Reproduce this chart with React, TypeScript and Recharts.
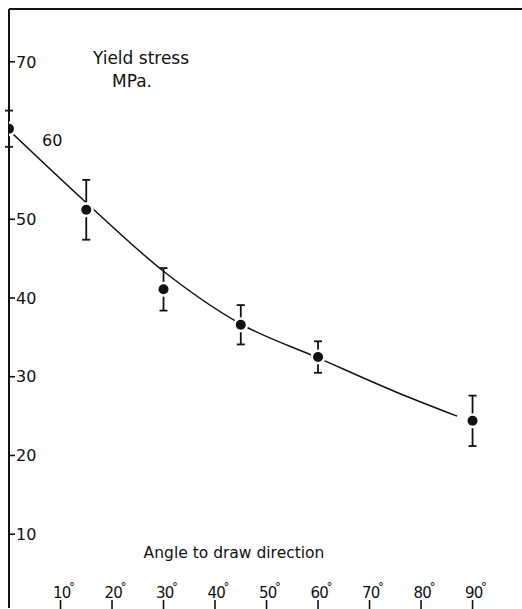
import React from 'react';
import { ComposedChart, Line, Scatter, ErrorBar, XAxis, YAxis } from 'recharts';

// measured points (angle to draw direction, yield stress in MPa, +/- spread)
const angles = [0, 15, 30, 45, 60, 90];
const yieldStress = [61.5, 51.2, 41.1, 36.6, 32.5, 24.4];
const stressError = [2.3, 3.8, 2.7, 2.5, 2.0, 3.2];

// hand-drawn trend curve
const fitAngles = [0, 15, 30, 45, 60, 75, 87];
const fitStress = [61.3, 52.1, 43.4, 36.7, 32.4, 28.1, 25.0];

const xTicks = [10, 20, 30, 40, 50, 60, 70, 80, 90];
const yTicks = [10, 20, 30, 40, 50, 60, 70];

const INK = '#111';
const FONT = '"DejaVu Sans", sans-serif';

const points = angles.map((a, i) => ({ angle: a, stress: yieldStress[i], err: stressError[i] }));
const curve = fitAngles.map((a, i) => ({ angle: a, fit: fitStress[i] }));

const AngleTick = (props: any) => {
  const { x, y, payload } = props;
  return (
    <g>
      <line x1={x} y1={y - 8} x2={x} y2={y + 2} stroke={INK} strokeWidth={1.6} />
      <text x={x + 3} y={y - 10} textAnchor="middle" fill={INK} fontSize={15} fontFamily={FONT} letterSpacing={-0.8}>
        {payload.value}
        <tspan dx={-1.5} dy={-7} fontSize={12}>°</tspan>
      </text>
    </g>
  );
};

const StressTick = (props: any) => {
  const { x, y, payload } = props;
  if (payload.value === 60) {
    return (
      <text x={x + 33} y={y} dy="0.36em" fill={INK} fontSize={16} fontFamily={FONT}>
        {payload.value}
      </text>
    );
  }
  return (
    <g>
      <line x1={x} y1={y} x2={x + 6} y2={y} stroke={INK} strokeWidth={1.6} />
      <text x={x + 7} y={y} dy="0.36em" fill={INK} fontSize={16} fontFamily={FONT}>
        {payload.value}
      </text>
    </g>
  );
};

const Dot = (props: any) => <circle cx={props.cx} cy={props.cy} r={5} fill={INK} />;
const Halo = (props: any) => <circle cx={props.cx} cy={props.cy} r={7.5} fill="#fff" />;

const textStyle: React.CSSProperties = {
  position: 'absolute',
  transform: 'translate(-50%, -50%)',
  whiteSpace: 'nowrap',
  lineHeight: 1,
  color: INK,
  fontFamily: FONT,
};

export default function App() {
  return (
    <div style={{ position: 'absolute', left: 0, top: 0, width: 522, height: 609, background: '#fff', overflow: 'hidden' }}>
      <ComposedChart width={522} height={609} margin={{ top: 9, right: 0, bottom: 0, left: 8 }}>
        <XAxis
          type="number"
          dataKey="angle"
          domain={[0, 99.6]}
          ticks={xTicks}
          height={1}
          tickSize={0}
          tickMargin={0}
          axisLine={false}
          tickLine={false}
          tick={<AngleTick />}
          interval={0}
          allowDataOverflow
        />
        {/* top frame line drawn as a mirrored axis with no ticks */}
        <XAxis
          xAxisId="frame"
          orientation="top"
          type="number"
          domain={[0, 99.6]}
          height={0.01}
          tick={false}
          tickLine={false}
          axisLine={{ stroke: INK, strokeWidth: 2 }}
        />
        <YAxis
          type="number"
          domain={[0.63, 76.7]}
          ticks={yTicks}
          width={1}
          tickSize={0}
          tickMargin={0}
          tickLine={false}
          axisLine={{ stroke: INK, strokeWidth: 2 }}
          tick={<StressTick />}
          interval={0}
          allowDataOverflow
        />
        <Line
          data={curve}
          dataKey="fit"
          type="monotone"
          stroke={INK}
          strokeWidth={1.5}
          dot={false}
          activeDot={false}
          isAnimationActive={false}
        />
        <Scatter data={points} dataKey="stress" shape={<Halo />} isAnimationActive={false} />
        <Scatter data={points} dataKey="stress" shape={<Dot />} isAnimationActive={false}>
          <ErrorBar dataKey="err" direction="y" width={4} stroke={INK} strokeWidth={1.8} />
        </Scatter>
      </ComposedChart>
      {/* mask the stray edge line at the right side */}
      <div style={{ position: 'absolute', left: 517, top: 11, width: 6, height: 600, background: '#fff' }} />
      <div style={{ ...textStyle, left: 141, top: 58, fontSize: 17 }}>Yield stress</div>
      <div style={{ ...textStyle, left: 132, top: 81, fontSize: 17 }}>MPa.</div>
      <div style={{ ...textStyle, left: 234, top: 554, fontSize: 15.5 }}>Angle to draw direction</div>
    </div>
  );
}
